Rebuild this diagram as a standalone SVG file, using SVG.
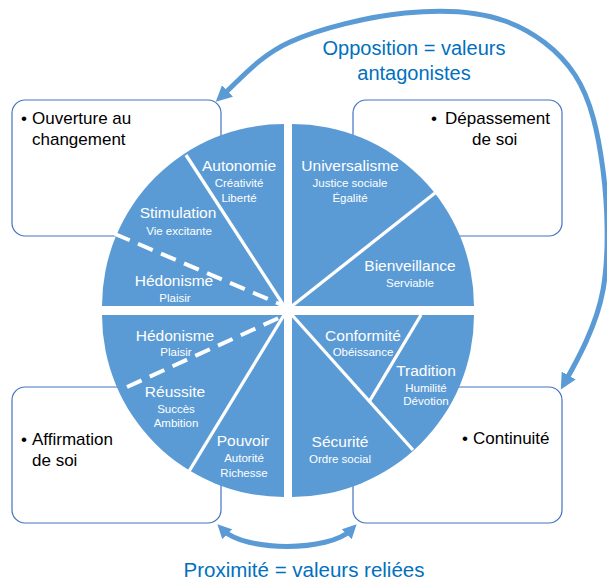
<svg xmlns="http://www.w3.org/2000/svg" width="607" height="581" viewBox="0 0 607 581">
<style>
.box{fill:#fff;stroke:#4472C4;stroke-width:1.2}
.q{fill:#5B9BD5}
.div{stroke:#fff;stroke-width:3.3;fill:none}
.dash{stroke:#fff;stroke-width:4;fill:none;stroke-dasharray:16 9}
.bt{font-family:"Liberation Sans",Arial,sans-serif;font-size:17px;fill:#000}
.lt{font-family:"Liberation Sans",Arial,sans-serif;font-size:15.5px;fill:#fff;text-anchor:middle}
.st{font-family:"Liberation Sans",Arial,sans-serif;font-size:11.5px;fill:#fff;text-anchor:middle}
.at{font-family:"Liberation Sans",Arial,sans-serif;font-size:20px;fill:#0070C0;text-anchor:middle}
.arc{fill:none;stroke:#5B9BD5;stroke-width:5}
</style>
<defs>
<marker id="ahBig" viewBox="0 0 10 10" refX="4.67" refY="5" markerWidth="16" markerHeight="16" markerUnits="userSpaceOnUse" orient="auto-start-reverse"><path d="M0,0 L10,5 L0,10 Z" fill="#5B9BD5"/></marker>
<marker id="ahSmall" viewBox="0 0 10 10" refX="4.6" refY="5" markerWidth="14" markerHeight="14" markerUnits="userSpaceOnUse" orient="auto-start-reverse"><path d="M0,0 L10,5 L0,10 Z" fill="#5B9BD5"/></marker>
</defs>

<g id="box-ouverture">
<rect class="box" x="12" y="100" width="209" height="136" rx="13"/>
<text class="bt" y="124"><tspan x="21">•</tspan><tspan x="32">Ouverture au</tspan></text>
<text class="bt" x="32" y="145">changement</text>
</g>
<g id="box-depassement">
<rect class="box" x="353" y="100" width="209" height="136" rx="13"/>
<text class="bt" y="124"><tspan x="431">•</tspan><tspan x="445">Dépassement</tspan></text>
<text class="bt" x="472" y="145">de soi</text>
</g>
<g id="box-affirmation">
<rect class="box" x="12" y="387" width="209" height="136" rx="13"/>
<text class="bt" y="445"><tspan x="21">•</tspan><tspan x="32">Affirmation</tspan></text>
<text class="bt" x="32" y="466">de soi</text>
</g>
<g id="box-continuite">
<rect class="box" x="353" y="387" width="209" height="136" rx="13"/>
<text class="bt" y="444"><tspan x="462">•</tspan><tspan x="473">Continuité</tspan></text>
</g>

<g id="quadrant-ouverture">
<path class="q" d="M284,306 L102,306 A182,182 0 0 1 284,124 Z"/>
<line class="div" x1="284" y1="306" x2="186" y2="155"/>
<line class="dash" x1="115" y1="234" x2="282" y2="305"/>
<text class="lt" x="239" y="171">Autonomie</text>
<text class="st" x="239" y="187">Créativité</text>
<text class="st" x="239" y="202">Liberté</text>
<text class="lt" x="178" y="218">Stimulation</text>
<text class="st" x="179" y="235">Vie excitante</text>
<text class="lt" x="174" y="286">Hédonisme</text>
<text class="st" x="175" y="302">Plaisir</text>
</g>
<g id="quadrant-depassement">
<path class="q" d="M292,306 L292,124 A182,182 0 0 1 474,306 Z"/>
<line class="div" x1="292" y1="306" x2="435" y2="193"/>
<text class="lt" x="350" y="171">Universalisme</text>
<text class="st" x="350" y="187">Justice sociale</text>
<text class="st" x="350" y="202">Égalité</text>
<text class="lt" x="410" y="271">Bienveillance</text>
<text class="st" x="410" y="287">Serviable</text>
</g>
<g id="quadrant-affirmation">
<path class="q" d="M284,315 L284,497 A182,182 0 0 1 102,315 Z"/>
<line class="dash" x1="127" y1="387" x2="283" y2="316"/>
<line class="div" x1="284" y1="315" x2="188" y2="473"/>
<text class="lt" x="175" y="341">Hédonisme</text>
<text class="st" x="176" y="356">Plaisir</text>
<text class="lt" x="175" y="397">Réussite</text>
<text class="st" x="176" y="413">Succès</text>
<text class="st" x="176" y="427">Ambition</text>
<text class="lt" x="243" y="446">Pouvoir</text>
<text class="st" x="244" y="462">Autorité</text>
<text class="st" x="244" y="477">Richesse</text>
</g>
<g id="quadrant-continuite">
<path class="q" d="M292,315 L474,315 A182,182 0 0 1 292,497 Z"/>
<line class="div" x1="292" y1="315" x2="413" y2="450"/>
<line class="div" x1="421" y1="315" x2="369" y2="402"/>
<text class="lt" x="363" y="341">Conformité</text>
<text class="st" x="363" y="356">Obéissance</text>
<text class="lt" x="426" y="376">Tradition</text>
<text class="st" x="426" y="392">Humilité</text>
<text class="st" x="426" y="405">Dévotion</text>
<text class="lt" x="340" y="447">Sécurité</text>
<text class="st" x="340" y="463">Ordre social</text>
</g>

<g id="connectors">
<path class="arc" marker-start="url(#ahBig)" marker-end="url(#ahBig)" d="M222,96 C240.5,79 259.5,55.8 290,42 C320.5,28.2 369.2,16.5 405,13 C440.8,9.5 476.7,10.7 505,21 C533.3,31.3 558.7,50.2 575,75 C591.3,99.8 598.3,134.2 603,170 C607.7,205.8 609.3,254.7 603,290 C596.7,325.3 577.3,360.3 565,382"/>
<path class="arc" marker-start="url(#ahSmall)" marker-end="url(#ahSmall)" d="M222.7,529.7 C245,552 329,552 351.3,529.7"/>
<text class="at" x="414" y="55">Opposition = valeurs</text>
<text class="at" x="414" y="80">antagonistes</text>
<text class="at" x="304" y="577" style="font-size:20.5px">Proximité = valeurs reliées</text>
</g>
</svg>
